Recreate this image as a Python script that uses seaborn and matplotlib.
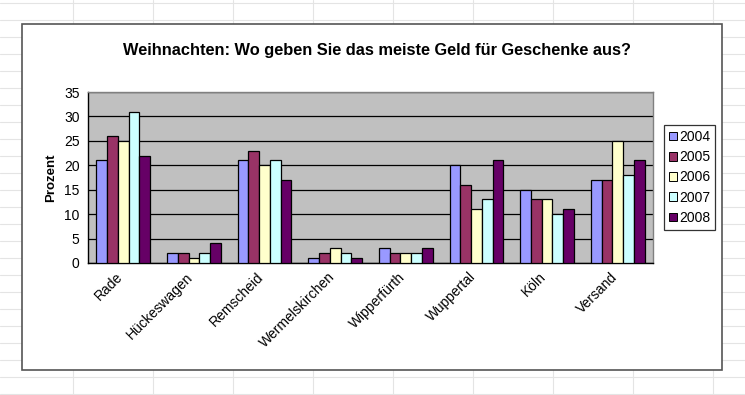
import matplotlib
matplotlib.use("Agg")
import matplotlib.pyplot as plt
import matplotlib.patches as mpatches
from matplotlib.lines import Line2D
import pandas as pd
import seaborn as sns

CATEGORIES = ["Rade", "Hückeswagen", "Remscheid", "Wermelskirchen",
              "Wipperfürth", "Wuppertal", "Köln", "Versand"]
YEARS = ["2004", "2005", "2006", "2007", "2008"]
VALUES_2004 = [21, 2, 21, 1, 3, 20, 15, 17]
VALUES_2005 = [26, 2, 23, 2, 2, 16, 13, 17]
VALUES_2006 = [25, 1, 20, 3, 2, 11, 13, 25]
VALUES_2007 = [31, 2, 21, 2, 2, 13, 10, 18]
VALUES_2008 = [22, 4, 17, 1, 3, 21, 11, 21]
COLORS = ["#9999FF", "#993366", "#FFFFCC", "#CCFFFF", "#660066"]

W, H = 745, 395


def px_x(x):
    return x / W


def px_y(y):
    return 1 - y / H


# Long-form table for seaborn
series = [VALUES_2004, VALUES_2005, VALUES_2006, VALUES_2007, VALUES_2008]
rows = []
for year, vals in zip(YEARS, series):
    for cat, v in zip(CATEGORIES, vals):
        rows.append({"Ort": cat, "Jahr": year, "Prozent": v})
data = pd.DataFrame(rows)

sns.set_style("white")
plt.rcParams["font.family"] = ["Liberation Sans", "DejaVu Sans"]
plt.rcParams.update({"text.color": "black", "axes.labelcolor": "black",
                     "xtick.color": "black", "ytick.color": "black"})

fig = plt.figure(figsize=(W / 100, H / 100), dpi=100)
fig.patch.set_facecolor("white")

# spreadsheet cell grid behind the chart object
for x in range(73, W, 80):
    fig.add_artist(Line2D([px_x(x), px_x(x)], [0, 1], color="#e4e4e4", lw=0.8, zorder=0))
for y in range(3, H, 17):
    fig.add_artist(Line2D([0, 1], [px_y(y), px_y(y)], color="#e4e4e4", lw=0.8, zorder=0))

# chart frame
fig.add_artist(mpatches.Rectangle((px_x(22), px_y(370)), px_x(722 - 22), (370 - 24) / H,
                                  facecolor="white", edgecolor="#555555", lw=1.2, zorder=1))

ax = fig.add_axes([px_x(88), px_y(263), px_x(653 - 88), (263 - 92) / H], zorder=2)
ax.set_facecolor("#C0C0C0")

sns.barplot(data=data, x="Ort", y="Prozent", hue="Jahr", hue_order=YEARS,
            palette=COLORS, width=0.76, edgecolor="black", linewidth=0.9,
            saturation=1, ax=ax, legend=False, zorder=3)

ax.set_ylim(0, 35)
ax.set_yticks(range(0, 36, 5))
ax.yaxis.grid(True, color="black", lw=0.9, zorder=1)
ax.set_axisbelow(True)
ax.set_xlim(-0.5, len(CATEGORIES) - 0.5)

# ticks at category boundaries, labels a bit left of the centres (Excel style)
ax.set_xticks([i - 0.5 for i in range(len(CATEGORIES) + 1)])
ax.set_xticklabels([])
ax.set_xticks([i - 0.11 for i in range(len(CATEGORIES))], minor=True)
ax.set_xticklabels(CATEGORIES, minor=True, rotation=45, ha="right", va="top",
                   rotation_mode="anchor", fontsize=10)
ax.tick_params(axis="x", which="major", direction="out", length=4, width=0.9, color="black")
ax.tick_params(axis="x", which="minor", length=0, pad=5)
ax.tick_params(axis="y", direction="out", length=4, width=0.9, color="black",
               labelsize=10, pad=2)

for side in ["left", "bottom"]:
    ax.spines[side].set_color("black")
    ax.spines[side].set_linewidth(1.0)
for side in ["top", "right"]:
    ax.spines[side].set_visible(True)
    ax.spines[side].set_color("#808080")
    ax.spines[side].set_linewidth(1.0)

ax.set_xlabel("")
ax.set_ylabel("Prozent", fontsize=9.5, fontweight="bold", labelpad=5)

fig.text(px_x(377), px_y(50), "Weihnachten: Wo geben Sie das meiste Geld für Geschenke aus?",
         ha="center", va="center", fontsize=11.8, fontweight="bold", zorder=3)

handles = [mpatches.Patch(facecolor=c, edgecolor="black", lw=0.7, label=y)
           for c, y in zip(COLORS, YEARS)]
leg = fig.legend(handles=handles, loc="upper left",
                 bbox_to_anchor=(px_x(664), px_y(125)), frameon=True,
                 fancybox=False, fontsize=10, handlelength=0.6, handleheight=0.6,
                 handletextpad=0.15, labelspacing=0.45, borderpad=0.35,
                 borderaxespad=0)
leg.get_frame().set_edgecolor("black")
leg.get_frame().set_linewidth(0.9)
leg.set_zorder(4)

fig.savefig("out.png", dpi=100)
